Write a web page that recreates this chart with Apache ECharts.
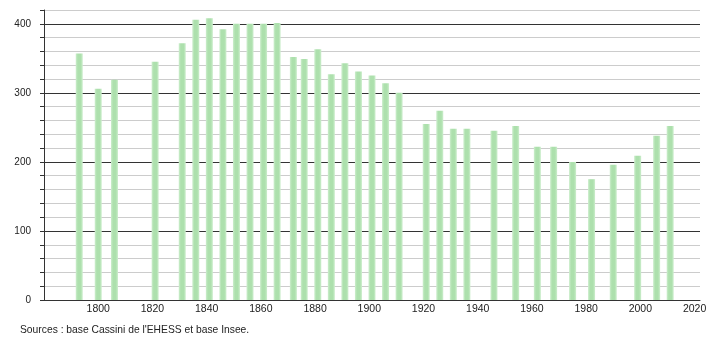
<!DOCTYPE html>
<html>
<head>
<meta charset="utf-8">
<script src="https://cdn.jsdelivr.net/npm/echarts@6/dist/echarts.min.js"></script>
<style>html,body{margin:0;padding:0;background:#fff}#c{width:710px;height:340px}</style>
</head>
<body>
<div id="c"></div>
<script>
var years = [1793,1800,1806,1821,1831,1836,1841,1846,1851,1856,1861,1866,1872,1876,1881,1886,1891,1896,1901,1906,1911,1921,1926,1931,1936,1946,1954,1962,1968,1975,1982,1990,1999,2006,2011];
var population = [357,306,319,345,372,406,408,392,400,400,400,401,352,349,363,327,343,331,325,314,300,255,274,248,248,245,252,222,222,200,175,196,209,238,252];
var sourceText = "Sources : base Cassini de l'EHESS et base Insee.";

var chart = echarts.init(document.getElementById('c'), null, {renderer: 'canvas'});
var font = 'Liberation Sans, Arial, sans-serif';
var data = years.map(function (y, i) { return [y, population[i]]; });
chart.setOption({
  animation: false,
  grid: {left: 44, right: 10, top: 10, bottom: 40},
  xAxis: {
    type: 'value', min: 1780, max: 2022, interval: 20,
    axisLine: {show: true, lineStyle: {color: '#333', width: 1}},
    axisTick: {show: false},
    splitLine: {show: false},
    axisLabel: {
      fontFamily: font, fontSize: 10.5, color: '#222', margin: 4,
      showMinLabel: false, showMaxLabel: false,
      formatter: function (v) { return (v % 20 === 0 && v > 1780) ? String(v) : ''; }
    }
  },
  yAxis: {
    type: 'value', min: 0, max: 420, interval: 20,
    axisLine: {show: true, lineStyle: {color: '#333', width: 1}},
    axisTick: {show: true, length: 4, lineStyle: {color: '#333'}},
    splitLine: {show: true, lineStyle: {color: ['#333', '#ccc', '#ccc', '#ccc', '#ccc'], width: 1}},
    axisLabel: {
      fontFamily: font, fontSize: 10, color: '#222', margin: 13,
      formatter: function (v) { return v % 100 === 0 ? String(v) : ''; }
    }
  },
  graphic: [{
    type: 'text', left: 20, top: 325,
    style: {text: sourceText, font: '10.3px ' + font, fill: '#222'}
  }],
  series: [{
    type: 'bar',
    data: data,
    barWidth: 7,
    itemStyle: {
      color: new echarts.graphic.LinearGradient(0, 0, 1, 0, [
        {offset: 0, color: '#cdeecd'},
        {offset: 0.3, color: '#ade0ad'},
        {offset: 0.7, color: '#ade0ad'},
        {offset: 1, color: '#cdeecd'}
      ])
    }
  }]
});
</script>
</body>
</html>
